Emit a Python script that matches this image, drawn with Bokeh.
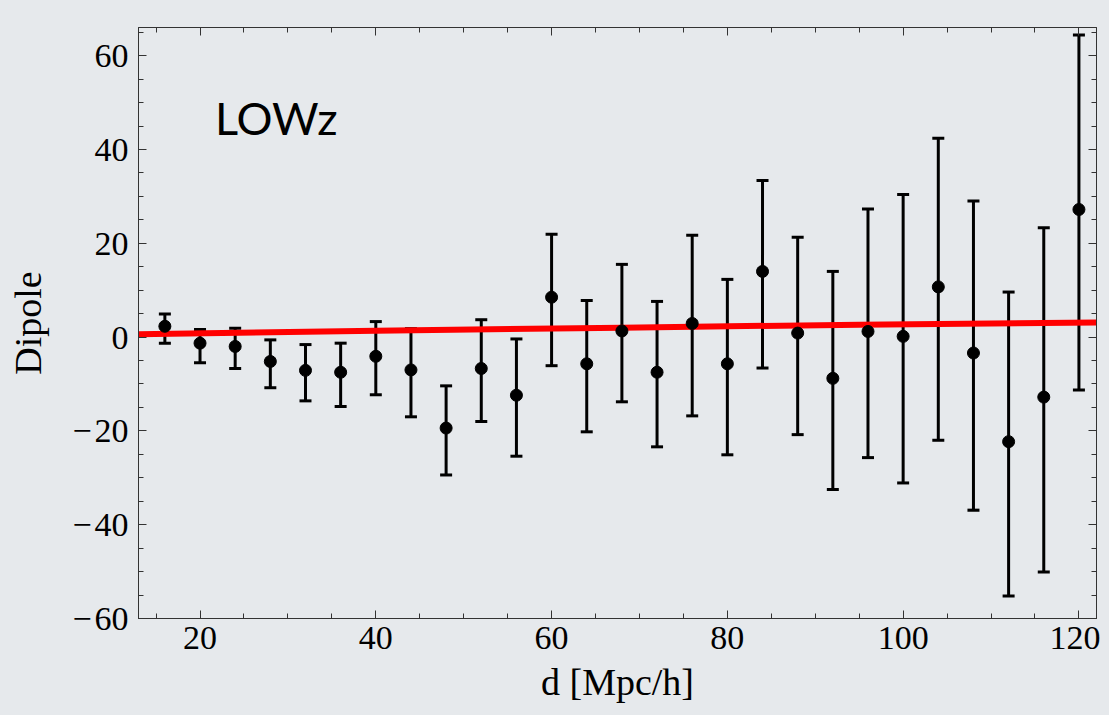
from bokeh.plotting import figure
from bokeh.models import (ColumnDataSource, Whisker, TeeHead, Range1d, LinearAxis,
                          SingleIntervalTicker, Label, CustomJSTickFormatter)
from bokeh.embed import file_html
from bokeh.resources import INLINE

# ---- data ----
d = [16, 20, 24, 28, 32, 36, 40, 44, 48, 52, 56, 60, 64, 68, 72, 76, 80, 84, 88, 92,
     96, 100, 104, 108, 112, 116, 120]
dipole = [2.3, -1.3, -2.0, -5.2, -7.1, -7.5, -4.1, -7.0, -19.4, -6.7, -12.4, 8.5, -5.7,
          1.3, -7.5, 2.9, -5.7, 14.0, 0.85, -8.8, 1.2, 0.15, 10.7, -3.4, -22.3, -12.8, 27.2]
err_upper = [4.9, 1.6, 1.9, -0.6, -1.6, -1.3, 3.3, 1.8, -10.4, 3.7, -0.4, 21.9, 7.8,
             15.5, 7.6, 21.7, 12.3, 33.4, 21.3, 14.0, 27.3, 30.4, 42.4, 29.0, 9.6, 23.3, 64.4]
err_lower = [-1.3, -5.5, -6.7, -10.8, -13.6, -14.8, -12.3, -17.0, -29.4, -18.0, -25.4, -6.1,
             -20.2, -13.8, -23.4, -16.8, -25.1, -6.6, -20.8, -32.5, -25.7, -31.1, -22.0,
             -36.9, -55.2, -50.1, -11.3]
model_d = [13, 40, 68, 95, 122]
model_dipole = [0.6, 1.35, 2.0, 2.65, 3.1]
y_ticks = [-60, -40, -20, 0, 20, 40, 60]
y_tick_labels = ["\u2212\u200a60", "\u2212\u200a40", "\u2212\u200a20", "0", "20", "40", "60"]
x_ticks = [20, 40, 60, 80, 100, 120]
x_tick_labels = ["20", "40", "60", "80", "100", "120"]
panel_label = "LOWz"
x_label = "d [Mpc/h]"
y_label = "Dipole"

BG = "#e6e9ec"
SERIF = "Liberation Serif"

p = figure(frame_width=958, frame_height=591, min_border_left=138, min_border_top=27,
           min_border_right=4, min_border_bottom=10,
           x_range=Range1d(13, 122), y_range=Range1d(-60, 66),
           output_backend="svg", toolbar_location=None)
p.background_fill_color = BG
p.border_fill_color = BG
p.outline_line_color = "#333333"
p.outline_line_width = 1
p.xgrid.visible = False
p.ygrid.visible = False

src = ColumnDataSource(dict(d=d, dipole=dipole, upper=err_upper, lower=err_lower))

p.line(model_d, model_dipole, line_color="#ff0000", line_width=6)
wh = Whisker(source=src, base="d", upper="upper", lower="lower",
             line_color="black", line_width=3,
             upper_head=TeeHead(size=12, line_width=3, line_color="black"),
             lower_head=TeeHead(size=12, line_width=3, line_color="black"))
p.add_layout(wh)
p.scatter("d", "dipole", source=src, size=12, color="black")


def style_axis(ax, show_labels):
    ax.axis_line_color = "#333333"
    ax.axis_line_width = 1
    ax.major_tick_in = 8
    ax.major_tick_out = 0
    ax.minor_tick_in = 5
    ax.minor_tick_out = 0
    ax.major_tick_line_color = "#333333"
    ax.minor_tick_line_color = "#333333"
    ax.major_label_text_font = SERIF
    ax.major_label_text_font_size = "34px"
    ax.major_label_text_color = "black"
    ax.axis_label_text_font = SERIF
    ax.axis_label_text_font_style = "normal"
    ax.axis_label_text_font_size = "38px"
    ax.axis_label_text_color = "black"
    if not show_labels:
        ax.formatter = CustomJSTickFormatter(code="return '';")
        ax.major_label_text_font_size = "1px"


xa = p.xaxis[0]
xa.ticker = SingleIntervalTicker(interval=20, num_minor_ticks=4)
style_axis(xa, True)
xa.major_label_overrides = dict(zip(x_ticks, x_tick_labels))
xa.major_label_standoff = 8
xa.axis_label = x_label
xa.axis_label_standoff = 9

ya = p.yaxis[0]
ya.ticker = SingleIntervalTicker(interval=20, num_minor_ticks=4)
style_axis(ya, True)
ya.major_label_overrides = dict(zip(y_ticks, y_tick_labels))
ya.major_label_standoff = 10
ya.axis_label = y_label
ya.axis_label_standoff = 20

top = LinearAxis(ticker=SingleIntervalTicker(interval=20, num_minor_ticks=4))
style_axis(top, False)
p.add_layout(top, "above")
right = LinearAxis(ticker=SingleIntervalTicker(interval=20, num_minor_ticks=4))
style_axis(right, False)
p.add_layout(right, "right")

p.add_layout(Label(x=21.7, y=46.6, text=panel_label, text_font="Lato",
                   text_font_size="45px", text_color="black",
                   text_baseline="alphabetic"))

html = file_html(p, INLINE)
html = html.replace("</head>",
                    "<style>html, body { background-color: %s !important; }</style></head>" % BG, 1)
open("out.html", "w").write(html)
